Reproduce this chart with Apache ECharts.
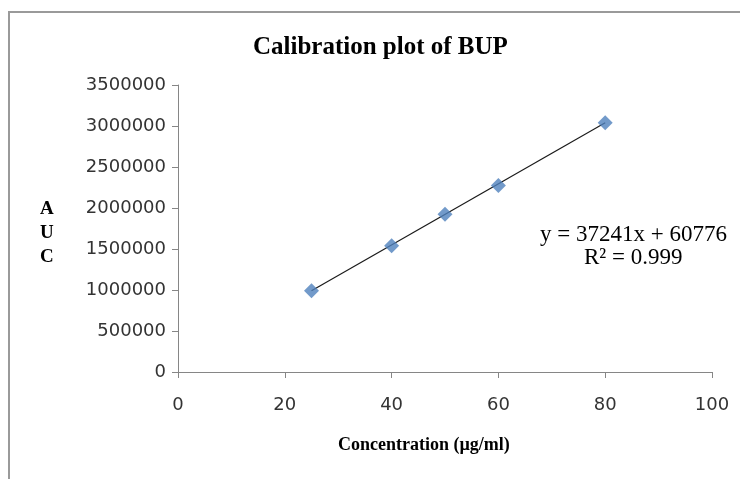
<!DOCTYPE html>
<html lang="en">
<head>
    <meta charset="UTF-8">
    <title>Calibration plot of BUP</title>
    <script src="https://cdn.jsdelivr.net/npm/echarts@6/dist/echarts.min.js"></script>
    <style>
        html, body { margin: 0; padding: 0; background: #fff; }
        #container { width: 740px; height: 479px; }
    </style>
</head>
<body>
<div id="container"></div>
<script type="text/javascript">
var dom = document.getElementById("container");
var myChart = echarts.init(dom);

// data
var concentration = [25, 40, 50, 60, 80];
var auc = [990000, 1540000, 1925000, 2275000, 3040000];
// linear trendline as printed on the chart
var slope = 37241;
var intercept = 60776;
var rSquared = '0.999';

var points = [];
for (var i = 0; i < concentration.length; i++) {
    points.push([concentration[i], auc[i]]);
}
var xFirst = concentration[0];
var xLast = concentration[concentration.length - 1];
var trend = [
    [xFirst, slope * xFirst + intercept],
    [xLast, slope * xLast + intercept]
];

var tickFont = {fontFamily: 'DejaVu Sans', fontSize: 18, color: '#333'};

var option = {
    animation: false,
    backgroundColor: '#fff',
    title: {
        text: 'Calibration plot of BUP',
        left: 248,
        top: 30,
        textStyle: {fontFamily: 'Liberation Serif', fontWeight: 'bold', fontSize: 25, color: '#000'}
    },
    graphic: [
        {
            type: 'rect',
            shape: {x: 9, y: 12, width: 800, height: 600},
            style: {fill: null, stroke: '#9a9a9a', lineWidth: 2},
            silent: true
        },
        {
            type: 'text',
            left: 40, top: 197,
            style: {
                text: 'A\nU\nC',
                font: 'bold 19px "Liberation Serif"',
                lineHeight: 24,
                fill: '#000',
                align: 'center'
            }
        },
        {
            type: 'text',
            left: 338, top: 436,
            style: {
                text: 'Concentration (\u00b5g/ml)',
                font: 'bold 18px "Liberation Serif"',
                fill: '#000'
            }
        },
        {
            type: 'text',
            left: 540, top: 223,
            style: {
                text: 'y = ' + slope + 'x + ' + intercept,
                font: '23px "Liberation Serif"',
                fill: '#000'
            }
        },
        {
            type: 'text',
            left: 584, top: 246,
            style: {
                text: 'R\u00b2 = ' + rSquared,
                font: '23px "Liberation Serif"',
                fill: '#000'
            }
        }
    ],
    grid: {left: 178, right: 28, top: 85, bottom: 107},
    xAxis: {
        type: 'value',
        min: 0, max: 100, interval: 20,
        axisLine: {lineStyle: {color: '#868686'}},
        axisTick: {show: true, inside: false, length: 6, lineStyle: {color: '#868686'}},
        axisLabel: Object.assign({margin: 24}, tickFont),
        splitLine: {show: false}
    },
    yAxis: {
        type: 'value',
        min: 0, max: 3500000, interval: 500000,
        axisLine: {show: true, lineStyle: {color: '#868686'}},
        axisTick: {show: true, inside: false, length: 6, lineStyle: {color: '#868686'}},
        axisLabel: Object.assign({margin: 12, formatter: function (v) { return String(v); }}, tickFont),
        splitLine: {show: false}
    },
    series: [
        {
            name: 'Linear (AUC)',
            type: 'line',
            data: trend,
            symbol: 'none',
            lineStyle: {color: '#1a1a1a', width: 1.2},
            z: 2
        },
        {
            name: 'AUC',
            type: 'scatter',
            data: points,
            symbol: 'diamond',
            symbolSize: [15, 15],
            itemStyle: {color: '#4F81BD'},
            z: 3
        }
    ]
};
myChart.setOption(option, true);
</script>
</body>
</html>
